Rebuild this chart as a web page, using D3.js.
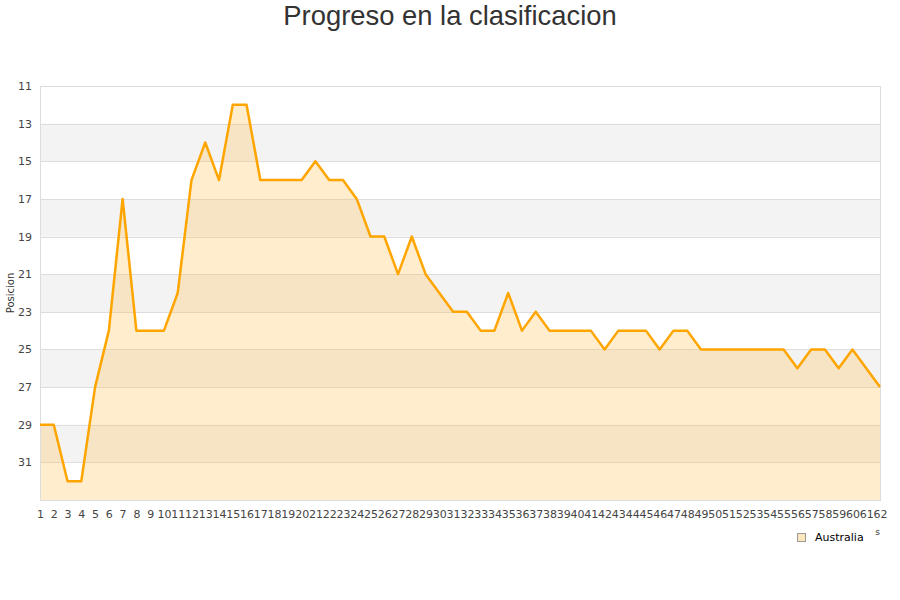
<!DOCTYPE html>
<html>
<head>
<meta charset="utf-8">
<script src="https://cdn.jsdelivr.net/npm/d3@7"></script>
<style>
  body { margin: 0; background: #fff; }
  svg { display: block; }
</style>
</head>
<body>
<svg id="chart" width="900" height="600"></svg>
<script>
// jornadas y posicion de Australia en cada una
var jornadas = d3.range(1, 63);
var posiciones = [29, 29, 32, 32, 27, 24, 17, 24, 24, 24,
                  22, 16, 14, 16, 12, 12, 16, 16, 16, 16,
                  15, 16, 16, 17, 19, 19, 21, 19, 21, 22,
                  23, 23, 24, 24, 22, 24, 23, 24, 24, 24,
                  24, 25, 24, 24, 24, 25, 24, 24, 25, 25,
                  25, 25, 25, 25, 25, 26, 25, 25, 26, 25,
                  26, 27];
var yTicks = [11, 13, 15, 17, 19, 21, 23, 25, 27, 29, 31];
var equipo = "Australia";

var svg = d3.select("#chart");
var pLeft = 40, pRight = 880, pTop = 86, pBottom = 500;

var x = d3.scaleLinear().domain([1, 62]).range([pLeft, pRight]);
var y = d3.scaleLinear().domain([11, 33]).range([pTop, pBottom]);

// bandas grises alternas
var bands = [13, 17, 21, 25, 29];
svg.selectAll("rect.band").data(bands).enter().append("rect")
  .attr("class", "band")
  .attr("x", pLeft).attr("width", pRight - pLeft)
  .attr("y", d => y(d)).attr("height", d => y(d + 2) - y(d))
  .attr("fill", "#f3f3f3");

// lineas de la rejilla
svg.selectAll("line.grid").data(yTicks.concat([33])).enter().append("line")
  .attr("x1", pLeft).attr("x2", pRight)
  .attr("y1", d => Math.round(y(d)) + 0.5).attr("y2", d => Math.round(y(d)) + 0.5)
  .attr("stroke", "#dddddd");

// area bajo la linea
var area = d3.area()
  .x((d, i) => x(jornadas[i]))
  .y0(y(33))
  .y1(d => y(d));
svg.append("path").datum(posiciones)
  .attr("d", area)
  .attr("fill", "rgba(255, 190, 70, 0.27)");

// borde del grafico
svg.append("rect")
  .attr("x", pLeft + 0.5).attr("y", pTop + 0.5)
  .attr("width", pRight - pLeft).attr("height", pBottom - pTop)
  .attr("fill", "none").attr("stroke", "#dddddd");

var line = d3.line()
  .x((d, i) => x(jornadas[i]))
  .y(d => y(d));
svg.append("path").datum(posiciones)
  .attr("d", line)
  .attr("fill", "none")
  .attr("stroke", "#ffa500")
  .attr("stroke-width", 2.5)
  .attr("stroke-linejoin", "round");

// eje y
var yAxis = svg.append("g")
  .attr("transform", `translate(${pLeft},0)`)
  .call(d3.axisLeft(y).tickValues(yTicks).tickSize(0).tickPadding(8));
yAxis.select(".domain").remove();
yAxis.selectAll("text")
  .attr("font-family", "DejaVu Sans").attr("font-size", 11).attr("fill", "#444");

// eje x
var xAxis = svg.append("g")
  .attr("transform", `translate(0,${pBottom})`)
  .call(d3.axisBottom(x).tickValues(jornadas).tickFormat(d3.format("d")).tickSize(0).tickPadding(10));
xAxis.select(".domain").remove();
xAxis.selectAll("text")
  .attr("font-family", "DejaVu Sans").attr("font-size", 11).attr("fill", "#444");

// titulos
svg.append("text")
  .attr("x", 450).attr("y", 25)
  .attr("text-anchor", "middle")
  .attr("font-family", "Liberation Sans").attr("font-size", 27.4)
  .attr("fill", "#333")
  .text("Progreso en la clasificacion");

svg.append("text")
  .attr("transform", "translate(14,293) rotate(-90)")
  .attr("text-anchor", "middle")
  .attr("font-family", "DejaVu Sans").attr("font-size", 10)
  .attr("fill", "#333")
  .text("Posicion");

// titulo del eje x, tapado casi entero por la leyenda
svg.append("text")
  .attr("x", 880).attr("y", 535)
  .attr("text-anchor", "end")
  .attr("font-family", "DejaVu Sans").attr("font-size", 9)
  .attr("fill", "#333")
  .text("Jornadas");
svg.append("rect")
  .attr("x", 790).attr("y", 528).attr("width", 85).attr("height", 20)
  .attr("fill", "#fff");

// leyenda
svg.append("rect")
  .attr("x", 797.5).attr("y", 533.5).attr("width", 8).attr("height", 8)
  .attr("fill", "#fde6bb").attr("stroke", "#999");
svg.append("text")
  .attr("x", 815).attr("y", 541)
  .attr("font-family", "DejaVu Sans").attr("font-size", 11)
  .attr("fill", "#000")
  .text(equipo);
</script>
</body>
</html>
